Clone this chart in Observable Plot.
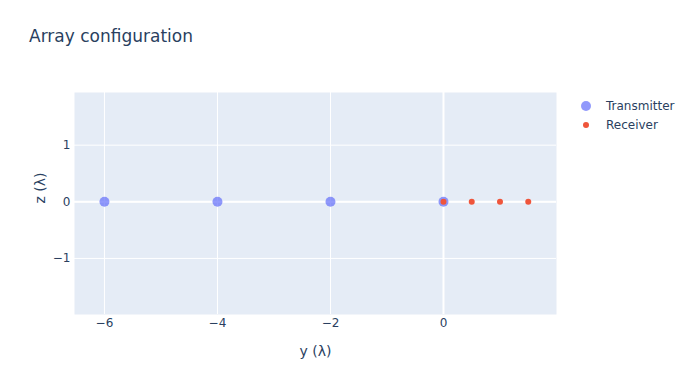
<!DOCTYPE html>
<html><head><meta charset="utf-8">
<script src="https://cdn.jsdelivr.net/npm/d3@7"></script>
<script src="https://cdn.jsdelivr.net/npm/@observablehq/plot@0.6"></script>
<style>
body{margin:0;background:#fff;font-family:"DejaVu Sans",Verdana,sans-serif;}
#wrap{position:relative;width:687px;height:376px;}
#title{position:absolute;left:29px;top:26px;font-size:17px;color:#2a3f5f;}
.leg{position:absolute;left:606px;font-size:12px;color:#2a3f5f;}
.dot{position:absolute;border-radius:50%;}
</style></head>
<body><div id="wrap"></div>
<script>
const transmitterY = [-6, -4, -2, 0];
const transmitterZ = [0, 0, 0, 0];
const receiverY = [0, 0.5, 1.0, 1.5];
const receiverZ = [0, 0, 0, 0];
const xTicks = [-6, -4, -2, 0];
const yTicks = [-1, 0, 1];
const seriesNames = ["Transmitter", "Receiver"];
const colors = ["#636efa", "#EF553B"];

const tx = transmitterY.map((y, i) => ({y, z: transmitterZ[i]}));
const rx = receiverY.map((y, i) => ({y, z: receiverZ[i]}));
const fmt = d => d < 0 ? "\u2212" + Math.abs(d) : String(d);

const chart = Plot.plot({
  width: 687, height: 376,
  marginLeft: 74, marginRight: 131, marginTop: 92, marginBottom: 62,
  style: {fontFamily: '"DejaVu Sans", Verdana, sans-serif', fontSize: "12px", color: "#2a3f5f", background: "#fff"},
  x: {domain: [-6.53, 2.0], ticks: xTicks, tickFormat: fmt, tickSize: 0, tickPadding: 4, label: null},
  y: {domain: [-1.99, 1.93], ticks: yTicks, tickFormat: fmt, tickSize: 0, tickPadding: 4, label: null},
  marks: [
    Plot.frame({fill: "#E5ECF6", stroke: null}),
    Plot.gridX(xTicks, {stroke: "#fff", strokeOpacity: 1, strokeWidth: 1}),
    Plot.gridY(yTicks, {stroke: "#fff", strokeOpacity: 1, strokeWidth: 1}),
    Plot.ruleX([0], {stroke: "#fff", strokeWidth: 2}),
    Plot.ruleY([0], {stroke: "#fff", strokeWidth: 2}),
    Plot.axisX({ticks: xTicks, tickFormat: fmt, tickSize: 0, tickPadding: 4, label: null, fill: "#2a3f5f"}),
    Plot.axisY({ticks: yTicks, tickFormat: fmt, tickSize: 0, tickPadding: 4, label: null, fill: "#2a3f5f"}),
    Plot.dot(tx, {x: "y", y: "z", r: 5, fill: colors[0], fillOpacity: 0.7, stroke: null}),
    Plot.dot(rx, {x: "y", y: "z", r: 3, fill: colors[1], stroke: null}),
    Plot.text(["y (λ)"], {frameAnchor: "bottom", dy: 41, fontSize: 14, fill: "#2a3f5f"}),
    Plot.text(["z (λ)"], {frameAnchor: "left", dx: -34, rotate: -90, fontSize: 14, fill: "#2a3f5f"})
  ]
});
const wrap = document.getElementById("wrap");
wrap.appendChild(chart);
const t = document.createElement("div"); t.id = "title"; t.textContent = "Array configuration"; wrap.appendChild(t);
const legend = [{name: seriesNames[0], c: colors[0], op: 0.7, d: 10, y: 106}, {name: seriesNames[1], c: colors[1], op: 1, d: 6, y: 125}];
legend.forEach(l => {
  const dot = document.createElement("div"); dot.className = "dot";
  dot.style.cssText = `left:${586 - l.d/2}px;top:${l.y - l.d/2}px;width:${l.d}px;height:${l.d}px;background:${l.c};opacity:${l.op}`;
  wrap.appendChild(dot);
  const tx = document.createElement("div"); tx.className = "leg"; tx.textContent = l.name;
  tx.style.top = (l.y - 7) + "px"; wrap.appendChild(tx);
});
</script></body></html>
